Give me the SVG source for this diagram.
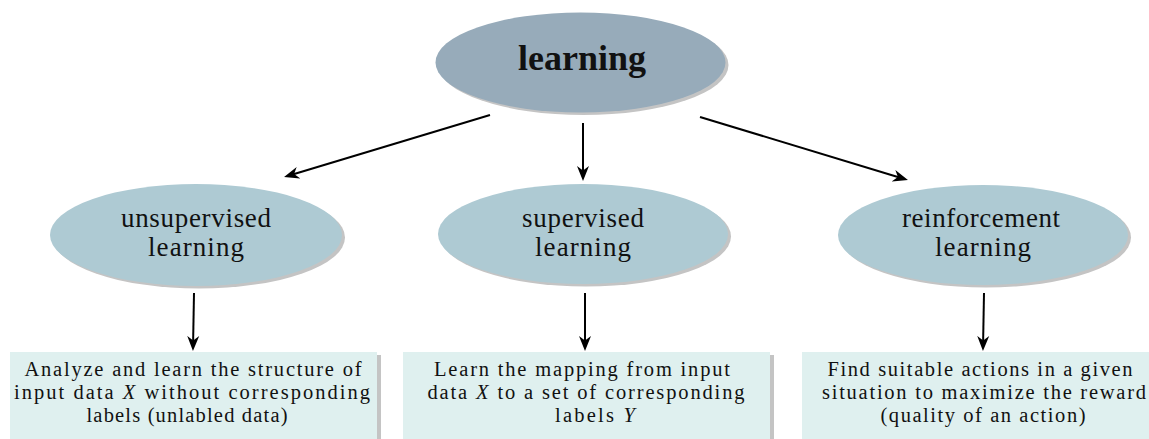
<svg xmlns="http://www.w3.org/2000/svg" width="1149" height="439" viewBox="0 0 1149 439">
<style>
.root{fill:#97abba}
.child{fill:#aecad3}
.shadow{fill:#c4c4c4}
.box{fill:#dff0ef}
.t{font-family:"Liberation Serif","Times New Roman",serif;fill:#111;text-anchor:middle}
.big{font-size:36px;font-weight:bold}
.mid{font-size:27px}
.sm{font-size:20.5px}
.conn{stroke:#000;stroke-width:2;fill:none;marker-end:url(#ah)}
</style>
<defs>
<marker id="ah" viewBox="-15 -7 16 14" refX="-8" refY="0" markerWidth="16" markerHeight="14" orient="auto" markerUnits="userSpaceOnUse">
<path d="M0,0 L-15,-6 L-10.5,0 L-15,6 Z" fill="#000"/>
</marker>
</defs>
<rect width="1149" height="439" fill="#fff"/>
<g id="learning">
<ellipse class="shadow" cx="583.5" cy="65" rx="145" ry="50"/>
<ellipse class="root" cx="580.5" cy="62.5" rx="145" ry="50"/>
<text class="t big" x="582" y="70" textLength="128" lengthAdjust="spacing">learning</text>
</g>
<g id="unsupervised">
<ellipse class="shadow" cx="199" cy="237.5" rx="146" ry="51"/>
<ellipse class="child" cx="196" cy="235" rx="146" ry="51"/>
<text class="t mid" x="196" y="227" textLength="150" lengthAdjust="spacing">unsupervised</text>
<text class="t mid" x="196" y="256" textLength="96" lengthAdjust="spacing">learning</text>
</g>
<g id="supervised">
<ellipse class="shadow" cx="586" cy="236.5" rx="145" ry="50"/>
<ellipse class="child" cx="583" cy="234" rx="145" ry="50"/>
<text class="t mid" x="583" y="227" textLength="122" lengthAdjust="spacing">supervised</text>
<text class="t mid" x="583" y="256" textLength="96" lengthAdjust="spacing">learning</text>
</g>
<g id="reinforcement">
<ellipse class="shadow" cx="986" cy="237.5" rx="145" ry="50"/>
<ellipse class="child" cx="983" cy="235" rx="145" ry="50"/>
<text class="t mid" x="981" y="227" textLength="158" lengthAdjust="spacing">reinforcement</text>
<text class="t mid" x="983" y="256" textLength="96" lengthAdjust="spacing">learning</text>
</g>
<g id="box-unsupervised">
<rect class="shadow" x="14" y="355" width="367" height="90"/>
<rect class="box" x="10" y="352" width="367" height="92"/>
<text class="t sm" x="193" y="375.5" textLength="337" lengthAdjust="spacing">Analyze and learn the structure of</text>
<text class="t sm" x="192" y="398.5" textLength="356" lengthAdjust="spacing">input data <tspan font-style="italic">X</tspan> without corresponding</text>
<text class="t sm" x="187" y="421.5" textLength="201" lengthAdjust="spacing">labels (unlabled data)</text>
</g>
<g id="box-supervised">
<rect class="shadow" x="407" y="355" width="367" height="90"/>
<rect class="box" x="403" y="352" width="367" height="92"/>
<text class="t sm" x="582" y="375.5" textLength="296" lengthAdjust="spacing">Learn the mapping from input</text>
<text class="t sm" x="586" y="398.5" textLength="317" lengthAdjust="spacing">data <tspan font-style="italic">X</tspan> to a set of corresponding</text>
<text class="t sm" x="595" y="421.5" textLength="80" lengthAdjust="spacing">labels <tspan font-style="italic">Y</tspan></text>
</g>
<g id="box-reinforcement">
<rect class="shadow" x="806" y="355" width="350" height="90"/>
<rect class="box" x="802" y="352" width="350" height="92"/>
<text class="t sm" x="980" y="375.5" textLength="305" lengthAdjust="spacing">Find suitable actions in a given</text>
<text class="t sm" x="984" y="398.5" textLength="324" lengthAdjust="spacing">situation to maximize the reward</text>
<text class="t sm" x="983" y="421.5" textLength="205" lengthAdjust="spacing">(quality of an action)</text>
</g>
<g id="connectors">
<line class="conn" x1="490" y1="115" x2="291.7" y2="174.7"/>
<line class="conn" x1="583" y1="123" x2="583" y2="173"/>
<line class="conn" x1="700" y1="117" x2="900.3" y2="177.7"/>
<line class="conn" x1="194" y1="293" x2="193.1" y2="343"/>
<line class="conn" x1="585" y1="293" x2="585" y2="343"/>
<line class="conn" x1="984" y1="293" x2="983.1" y2="343"/>
</g>
</svg>
